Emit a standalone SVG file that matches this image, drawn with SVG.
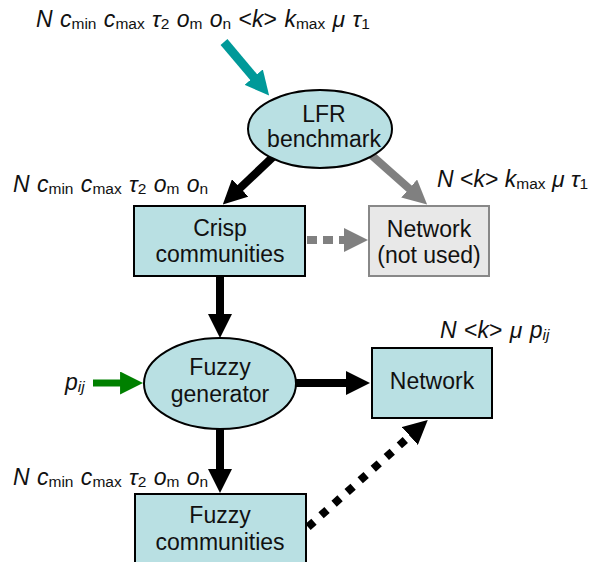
<svg xmlns="http://www.w3.org/2000/svg" width="592" height="562" viewBox="0 0 592 562">
<style>
.node{fill:#b9e0e3;stroke:#000;stroke-width:2}
.gnode{fill:#e8e8e8;stroke:#888;stroke-width:2}
.t{font-family:"Liberation Sans",Arial,sans-serif;font-size:23px;fill:#111;text-anchor:middle}
.lbl{font-family:"Liberation Sans",Arial,sans-serif;font-size:23px;fill:#111;word-spacing:1px}
.i{font-style:italic}
.s{font-size:15.5px}
.blk{stroke:#000;stroke-width:8;fill:none}
.gry{stroke:#808080;stroke-width:8;fill:none}
</style>
<defs>
<marker id="hb" viewBox="0 0 24 24" refX="1" refY="12" markerWidth="24" markerHeight="24" markerUnits="userSpaceOnUse" orient="auto"><path d="M0,0L24,12L0,24z" fill="#000"/></marker>
<marker id="hg" viewBox="0 0 24 24" refX="1" refY="12" markerWidth="24" markerHeight="24" markerUnits="userSpaceOnUse" orient="auto"><path d="M0,0L24,12L0,24z" fill="#808080"/></marker>
<marker id="ht" viewBox="0 0 24 24" refX="1" refY="12" markerWidth="24" markerHeight="24" markerUnits="userSpaceOnUse" orient="auto"><path d="M0,0L24,12L0,24z" fill="#009999"/></marker>
<marker id="hgr" viewBox="0 0 24 24" refX="1" refY="12" markerWidth="23" markerHeight="23" markerUnits="userSpaceOnUse" orient="auto"><path d="M0,0L24,12L0,24z" fill="#008000"/></marker>
</defs>
<g id="connectors">
<line x1="224" y1="42" x2="254.3" y2="77.9" stroke="#009999" stroke-width="9" marker-end="url(#ht)"/>
<line class="blk" x1="275" y1="155" x2="239.5" y2="188.6" marker-end="url(#hb)"/>
<line class="gry" x1="369" y1="153" x2="409.9" y2="189.2" marker-end="url(#hg)"/>
<line class="gry" x1="307" y1="240" x2="345" y2="240" stroke-width="7" stroke-dasharray="10 6" marker-end="url(#hg)"/>
<line class="blk" x1="220" y1="276" x2="220" y2="315" marker-end="url(#hb)"/>
<line x1="93" y1="383" x2="121" y2="383" stroke="#008000" stroke-width="7" marker-end="url(#hgr)"/>
<line class="blk" x1="294" y1="383" x2="347" y2="383" marker-end="url(#hb)"/>
<line class="blk" x1="220" y1="428" x2="220" y2="470" marker-end="url(#hb)"/>
<line class="blk" x1="308" y1="527" x2="410.6" y2="435.3" stroke-dasharray="8 9.5" marker-end="url(#hb)"/>
</g>
<g id="lfr">
<ellipse class="node" cx="320" cy="129" rx="72" ry="39"/>
<text class="t" x="324" y="122">LFR</text>
<text class="t" x="324" y="147">benchmark</text>
</g>
<g id="crisp">
<rect class="node" x="134" y="206" width="171" height="70"/>
<text class="t" x="220" y="236">Crisp</text>
<text class="t" x="220" y="262">communities</text>
</g>
<g id="network-unused">
<rect class="gnode" x="369" y="206" width="120" height="70"/>
<text class="t" x="429" y="237">Network</text>
<text class="t" x="429" y="263">(not used)</text>
</g>
<g id="fuzzy-generator">
<ellipse class="node" cx="220" cy="383.5" rx="76" ry="45.5"/>
<text class="t" x="220" y="375">Fuzzy</text>
<text class="t" x="220" y="402">generator</text>
</g>
<g id="network">
<rect class="node" x="372" y="348" width="120" height="70"/>
<text class="t" x="432" y="389">Network</text>
</g>
<g id="fuzzy-communities">
<rect class="node" x="135" y="494" width="171" height="72"/>
<text class="t" x="220" y="523">Fuzzy</text>
<text class="t" x="220" y="550">communities</text>
</g>
<g id="labels">
<text class="lbl" x="36" y="27"><tspan class="i">N c</tspan><tspan class="s" dy="2">min</tspan><tspan class="i" dy="-2"> c</tspan><tspan class="s" dy="2">max</tspan><tspan class="i" dy="-2"> τ</tspan><tspan class="s" dy="2">2</tspan><tspan class="i" dy="-2"> o</tspan><tspan class="s" dy="2">m</tspan><tspan class="i" dy="-2"> o</tspan><tspan class="s" dy="2">n</tspan><tspan dy="-2"> &lt;</tspan><tspan class="i">k</tspan><tspan>&gt; </tspan><tspan class="i">k</tspan><tspan class="s" dy="2">max</tspan><tspan class="i" dy="-2"> μ τ</tspan><tspan class="s" dy="2">1</tspan></text>
<text class="lbl" x="13" y="192"><tspan class="i">N c</tspan><tspan class="s" dy="2">min</tspan><tspan class="i" dy="-2"> c</tspan><tspan class="s" dy="2">max</tspan><tspan class="i" dy="-2"> τ</tspan><tspan class="s" dy="2">2</tspan><tspan class="i" dy="-2"> o</tspan><tspan class="s" dy="2">m</tspan><tspan class="i" dy="-2"> o</tspan><tspan class="s" dy="2">n</tspan></text>
<text class="lbl" x="13" y="485"><tspan class="i">N c</tspan><tspan class="s" dy="2">min</tspan><tspan class="i" dy="-2"> c</tspan><tspan class="s" dy="2">max</tspan><tspan class="i" dy="-2"> τ</tspan><tspan class="s" dy="2">2</tspan><tspan class="i" dy="-2"> o</tspan><tspan class="s" dy="2">m</tspan><tspan class="i" dy="-2"> o</tspan><tspan class="s" dy="2">n</tspan></text>
<text class="lbl" x="437" y="187" style="word-spacing:0"><tspan class="i">N </tspan><tspan>&lt;</tspan><tspan class="i">k</tspan><tspan>&gt; </tspan><tspan class="i">k</tspan><tspan class="s" dy="2">max</tspan><tspan class="i" dy="-2"> μ τ</tspan><tspan class="s" dy="2">1</tspan></text>
<text class="lbl" x="440" y="338"><tspan class="i">N </tspan><tspan>&lt;</tspan><tspan class="i">k</tspan><tspan>&gt; </tspan><tspan class="i">μ p</tspan><tspan class="s i" dy="2">ij</tspan></text>
<text class="lbl" x="65" y="390"><tspan class="i">p</tspan><tspan class="s i" dy="2">ij</tspan></text>
</g>
</svg>
